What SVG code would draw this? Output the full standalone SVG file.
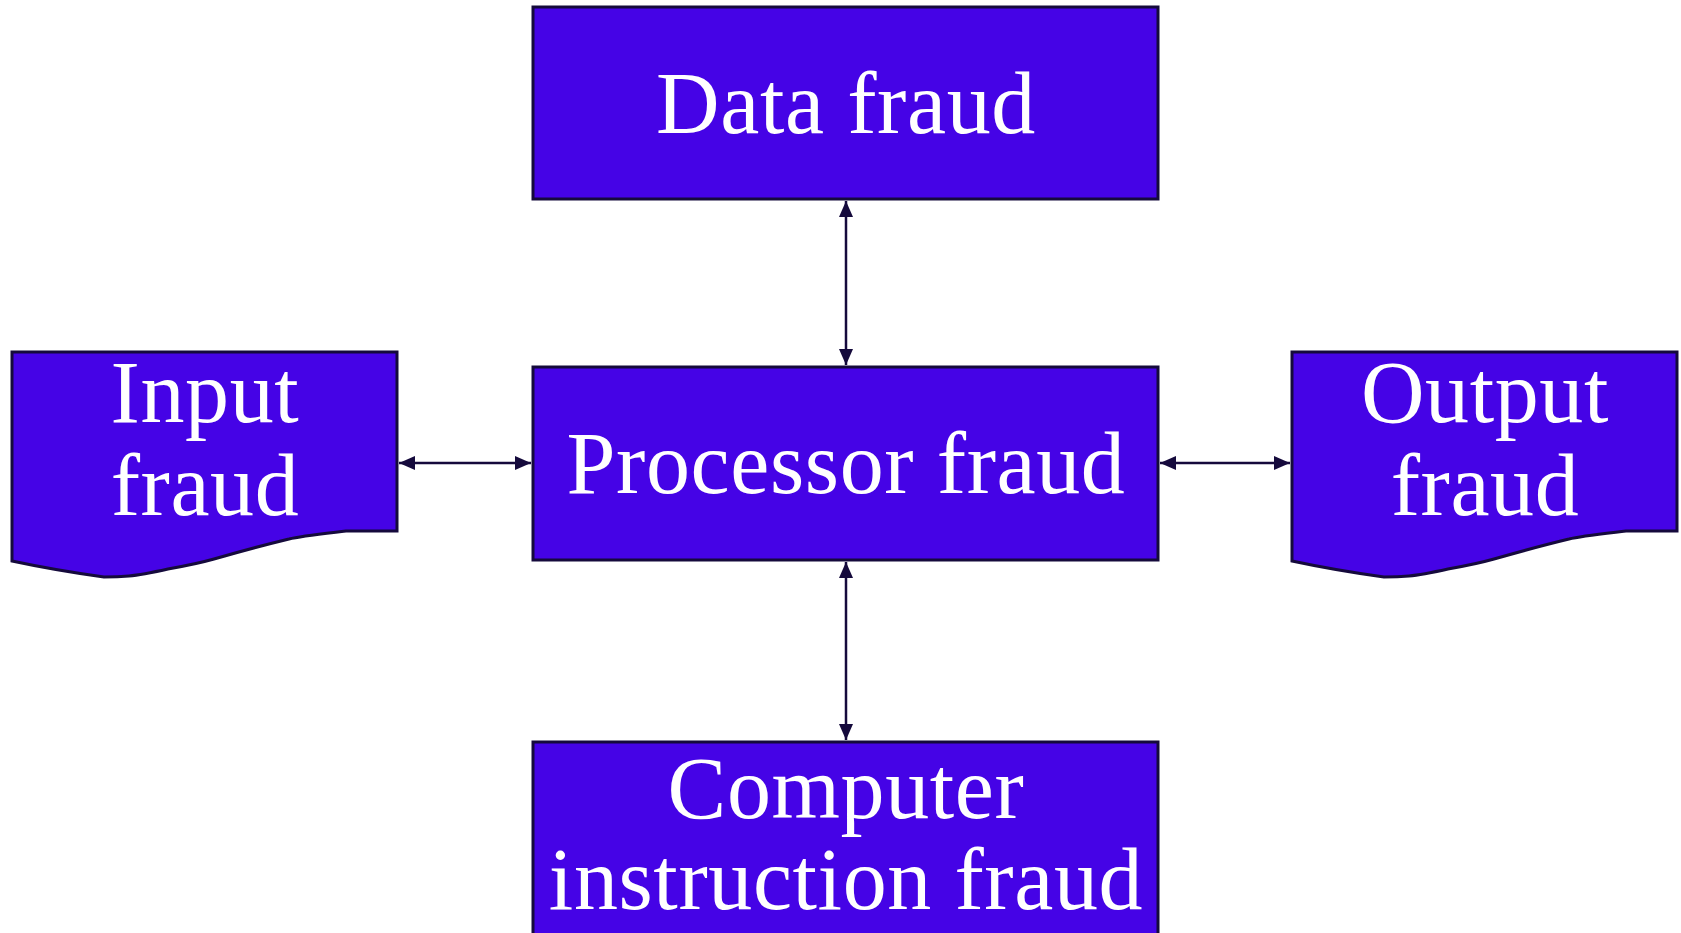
<svg xmlns="http://www.w3.org/2000/svg" width="1681" height="933" viewBox="0 0 1681 933">
  <style>
    .box { fill: #4503E6; stroke: #150A3C; stroke-width: 3; }
    .lbl { fill: #FFFFFF; font-family: "Liberation Serif", "Times New Roman", serif; font-size: 88px; letter-spacing: 0.6px; text-anchor: middle; }
    .link { stroke: #150A3C; stroke-width: 2.5; fill: none; marker-start: url(#head); marker-end: url(#head); }
  </style>
  <defs>
    <marker id="head" viewBox="0 0 16 14" refX="16" refY="7" markerWidth="16" markerHeight="14" markerUnits="userSpaceOnUse" orient="auto-start-reverse">
      <path d="M0,0 L16,7 L0,14 Z" fill="#150A3C"/>
    </marker>
  </defs>
  <rect width="1681" height="933" fill="#FFFFFF"/>

  <g id="connectors">
    <line class="link" x1="846" y1="201" x2="846" y2="365"/>
    <line class="link" x1="846" y1="562" x2="846" y2="740"/>
    <line class="link" x1="399" y1="463" x2="531" y2="463"/>
    <line class="link" x1="1160" y1="463" x2="1290" y2="463"/>
  </g>

  <g id="data-fraud">
    <rect class="box" x="533" y="7" width="625" height="192"/>
    <text class="lbl" x="846" y="133">Data fraud</text>
  </g>

  <g id="processor-fraud">
    <rect class="box" x="533" y="367" width="625" height="193"/>
    <text class="lbl" x="846" y="493">Processor fraud</text>
  </g>

  <g id="input-fraud">
    <path class="box" d="M12,352 H397 V531 H346 C320,534 300,536 289,539 C260,546 235,553 214,559 C200,563 185,566 168,569 C150,573 140,575 129,576 C118,577 110,577 104,577 C75,573 40,567 12,561 Z"/>
    <text class="lbl" x="205" y="422">Input</text>
    <text class="lbl" x="205" y="515">fraud</text>
  </g>

  <g id="output-fraud">
    <path class="box" d="M1292,352 H1677 V531 H1626 C1600,534 1580,536 1569,539 C1540,546 1515,553 1494,559 C1480,563 1465,566 1448,569 C1430,573 1420,575 1409,576 C1398,577 1390,577 1384,577 C1355,573 1320,567 1292,561 Z"/>
    <text class="lbl" x="1485" y="422">Output</text>
    <text class="lbl" x="1485" y="515">fraud</text>
  </g>

  <g id="computer-instruction-fraud">
    <rect class="box" x="533" y="742" width="625" height="200"/>
    <text class="lbl" x="846" y="818">Computer</text>
    <text class="lbl" x="846" y="909">instruction fraud</text>
  </g>
</svg>
